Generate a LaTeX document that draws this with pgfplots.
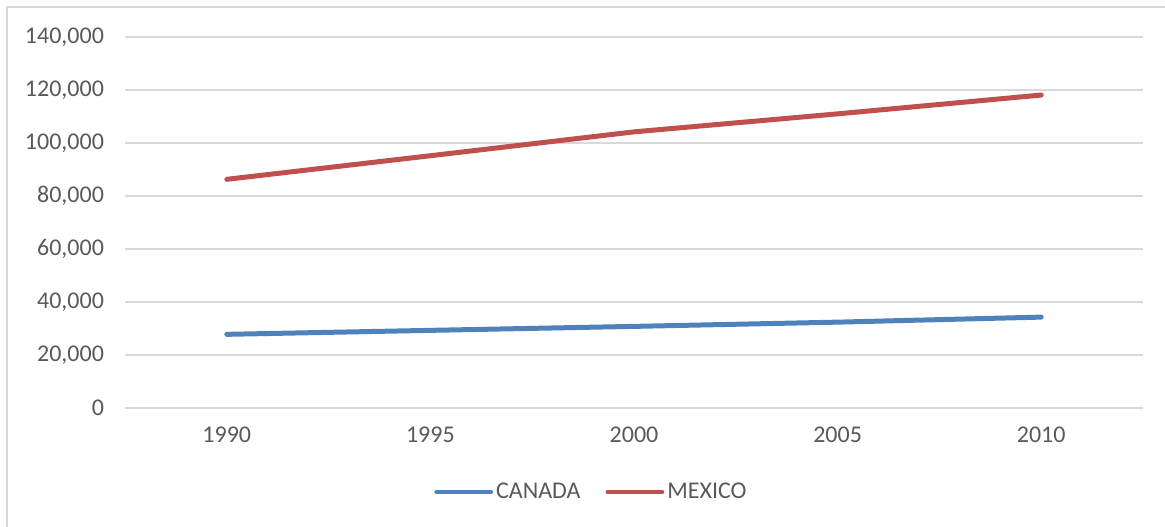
\documentclass[border=0pt]{standalone}
\usepackage{pgfplots}
\pgfplotsset{compat=1.18}
\usepackage{fontspec}
\setmainfont{Carlito}
\definecolor{cblue}{HTML}{4F81BD}
\definecolor{cred}{HTML}{C0504D}
\definecolor{gridc}{HTML}{D9D9D9}
\definecolor{txt}{HTML}{595959}
\begin{document}
\begin{tikzpicture}
\useasboundingbox (-62.5pt,-59pt) rectangle (520pt,204pt);
\clip (-62.5pt,-59pt) rectangle (520pt,204pt);
\draw[gridc, line width=0.9pt] (-59pt,-80pt) rectangle (540pt,200.5pt);
\begin{axis}[
  at={(0,0)}, anchor=south west,
  scale only axis, width=509pt, height=185.5pt,
  xmin=-0.5, xmax=4.5, ymin=0, ymax=140000,
  scaled y ticks=false,
  xtick={0,1,2,3,4}, xticklabels={1990,1995,2000,2005,2010},
  ytick={0,20000,40000,60000,80000,100000,120000,140000},
  yticklabels={0,{20,000},{40,000},{60,000},{80,000},{100,000},{120,000},{140,000}},
  axis line style={draw=none},
  major tick length=0pt,
  ymajorgrids, grid style={gridc, line width=0.9pt},
  tick label style={font=\fontsize{12}{14}\selectfont, text=txt},
  xticklabel style={yshift=-6pt},
  yticklabel style={xshift=-7pt},
  legend columns=2,
  legend style={draw=none, fill=none, at={(0.4587,-0.2264)}, anchor=center,
    font=\fontsize{12}{14}\selectfont, text=txt,
    /tikz/every even column/.append style={column sep=11pt},
    inner sep=0pt, nodes={inner sep=1.5pt}},
  legend image code/.code={\draw[#1, line cap=round, line width=2.4pt] (0pt,0pt) -- (27pt,0pt);},
]
\addplot[cblue, line width=2.5pt, line cap=round, line join=round] coordinates {(0,27800) (1,29300) (2,30800) (3,32400) (4,34300)};
\addlegendentry{CANADA}
\addplot[cred, line width=2.5pt, line cap=round, line join=round] coordinates {(0,86300) (1,95200) (2,104200) (3,111000) (4,118100)};
\addlegendentry{MEXICO}
\end{axis}
\end{tikzpicture}
\end{document}
